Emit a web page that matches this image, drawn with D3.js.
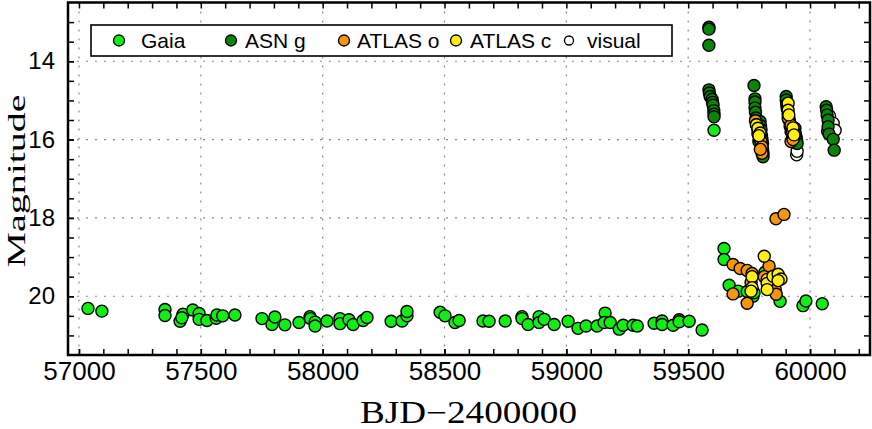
<!DOCTYPE html>
<html>
<head>
<meta charset="utf-8">
<script src="https://cdn.jsdelivr.net/npm/d3@7"></script>
<style>
  body { margin: 0; background: #fff; }
  .tick text { font-family: "Liberation Sans", Arial, sans-serif; fill: #000; }
  .axisText { font-family: "Liberation Serif", "Times New Roman", serif; fill: #000; }
  .legText { font-family: "Liberation Sans", Arial, sans-serif; font-size: 21px; fill: #000; }
</style>
</head>
<body>
<div id="chart"></div>
<script>
// ---- data ----
var gaiaJD = [57037,57094,57353,57353,57415,57427,57422,57467,57493,57493,57525,57563,57566,57590,57640,
  57751,57792,57804,57845,57903,57948,57950,57969,57969,58018,58071,58071,58108,58125,58166,58182,
  58281,58326,58346,58346,58482,58502,58543,58560,58658,58683,58749,58818,58818,58843,58888,58888,
  58909,58950,59007,59048,59081,59126,59159,59155,59180,59217,59233,59274,59291,59360,59393,59393,
  59438,59463,59463,59504,59557,
  59606,59647,59647,59668,59705,59742,59766,59770,59815,59877,59971,59983,60050];
var gaiaMag = [20.31,20.38,20.34,20.49,20.64,20.46,20.55,20.35,20.44,20.59,20.62,20.56,20.48,20.50,20.48,
  20.57,20.72,20.53,20.73,20.67,20.52,20.57,20.66,20.76,20.63,20.57,20.70,20.60,20.72,20.62,20.54,
  20.64,20.63,20.50,20.39,20.41,20.50,20.67,20.62,20.63,20.64,20.63,20.52,20.57,20.72,20.52,20.67,
  20.59,20.72,20.64,20.82,20.76,20.76,20.43,20.67,20.67,20.84,20.74,20.74,20.76,20.69,20.63,20.72,
  20.74,20.60,20.65,20.64,20.86,
  15.76,18.78,19.06,19.72,19.87,19.88,20.00,19.91,19.39,20.13,20.24,20.12,20.19];

var asnJD = [59585,59585,59585,
  59585,59587,59590,59598,59600,59602,59605,59606,59606,
  59770,59774,59774,59774,59776,59778,59782,59786,59790,59795,59797,59799,59801,59803,59805,59805,59807,59807,
  59902,59902,59904,59906,59910,59914,59918,59922,59928,59938,59940,59944,59945,59947,
  60066,60068,60070,60072,60074,60074,60078,60095,60099];
var asnMag = [13.13,13.18,13.59,
  14.73,14.81,14.90,14.97,15.05,15.12,15.26,15.35,15.42,
  14.62,14.96,15.04,15.19,15.30,15.45,15.60,15.85,16.05,15.54,15.65,15.75,15.90,16.00,16.10,16.25,16.35,16.44,
  14.90,14.99,15.10,15.20,15.35,15.50,15.65,15.80,15.95,15.71,15.85,15.95,16.02,16.10,
  15.16,15.25,15.37,15.78,15.50,15.67,15.86,15.99,16.27];

var atlasOJD = [59776,59780,59786,59792,59799,59803,59803,59796,
  59910,59922,59928,59934,59922,59930,
  59860,59893,59684,59713,59742,59762,59684,59742,59832,59857,59861,59812,59758];
var atlasOMag = [15.52,15.62,15.75,15.95,16.05,16.18,16.35,16.25,
  15.45,15.63,15.80,15.92,16.05,16.00,
  18.02,17.91,19.19,19.29,19.34,19.42,19.94,20.18,19.23,19.83,19.95,19.50,19.65];

var atlasCJD = [59780,59786,59795,59790,
  59910,59910,59913,59930,59934,
  59762,59762,59758,59812,59824,59824,59824,59848,59869,59881,59869];
var atlasCMag = [15.62,15.71,15.83,15.90,
  15.07,15.25,15.37,15.70,15.88,
  19.50,19.78,19.87,18.98,19.57,19.67,19.83,19.49,19.44,19.56,19.60];

var visualJD = [59790,59800,59915,59945,59947,60080,60095,60103];
var visualMag = [15.60,15.90,15.50,16.39,16.30,15.40,15.58,15.76];

var xTicks = [57000,57500,58000,58500,59000,59500,60000];
var yTicks = [14,16,18,20];
var legendLabels = ["Gaia","ASN g","ATLAS o","ATLAS c","visual"];
var legendColors = ["#11ee11","#0a850a","#f7950f","#ffef10","#ffffff"];

// ---- dimensions ----
var svgWidth = 872;
var svgHeight = 429;
var margin = {top: 2.5, right: 2, bottom: 74, left: 68};
var width = svgWidth - margin.left - margin.right;
var height = svgHeight - margin.top - margin.bottom;

var svg = d3.select("#chart")
  .append("svg")
  .attr("width", svgWidth)
  .attr("height", svgHeight);

var chartGroup = svg.append("g")
  .attr("transform", `translate(${margin.left}, ${margin.top})`);

var xScale = d3.scaleLinear().domain([56955, 60246]).range([0, width]);
var yScale = d3.scaleLinear().domain([12.5, 21.5]).range([0, height]);

// grid
chartGroup.selectAll(".vgrid")
  .data(xTicks)
  .enter()
  .append("line")
  .attr("x1", d => xScale(d)).attr("x2", d => xScale(d))
  .attr("y1", 0).attr("y2", height)
  .attr("stroke", "#8a8a8a").attr("stroke-width", 1.2)
  .attr("stroke-dasharray", "2,7");

chartGroup.selectAll(".hgrid")
  .data(yTicks)
  .enter()
  .append("line")
  .attr("x1", 0).attr("x2", width)
  .attr("y1", d => yScale(d)).attr("y2", d => yScale(d))
  .attr("stroke", "#8a8a8a").attr("stroke-width", 1.2)
  .attr("stroke-dasharray", "2,7");

// axes: ticks point inward on all four sides
var minorX = d3.range(57000, 60201, 100);
var minorY = d3.range(13, 21.01, 0.5);

function styleAxis(g) {
  g.select(".domain").remove();
  g.selectAll(".tick line").attr("stroke", "#000").attr("stroke-width", 1.5);
}

chartGroup.append("g")
  .attr("transform", `translate(0, ${height})`)
  .call(d3.axisBottom(xScale).tickValues(minorX).tickSizeInner(-6).tickSizeOuter(0).tickFormat(""))
  .call(styleAxis);

chartGroup.append("g")
  .attr("transform", `translate(0, ${height})`)
  .call(d3.axisBottom(xScale).tickValues(xTicks).tickSizeInner(-6).tickSizeOuter(0).tickPadding(7).tickFormat(d3.format("d")))
  .call(styleAxis)
  .selectAll("text").attr("font-size", 26);

chartGroup.append("g")
  .call(d3.axisTop(xScale).tickValues(minorX).tickSizeInner(-6).tickSizeOuter(0).tickFormat(""))
  .call(styleAxis);

chartGroup.append("g")
  .call(d3.axisLeft(yScale).tickValues(minorY).tickSizeInner(-6).tickSizeOuter(0).tickFormat(""))
  .call(styleAxis);

chartGroup.append("g")
  .call(d3.axisLeft(yScale).tickValues(yTicks).tickSizeInner(-6).tickSizeOuter(0).tickPadding(13).tickFormat(d3.format("d")))
  .call(styleAxis)
  .selectAll("text").attr("font-size", 24);

chartGroup.append("g")
  .attr("transform", `translate(${width}, 0)`)
  .call(d3.axisRight(yScale).tickValues(minorY).tickSizeInner(-6).tickSizeOuter(0).tickFormat(""))
  .call(styleAxis);

// frame
chartGroup.append("rect")
  .attr("width", width).attr("height", height)
  .attr("fill", "none").attr("stroke", "#000").attr("stroke-width", 2.5);

// points
function drawSeries(jd, mag, color) {
  chartGroup.append("g")
    .selectAll("circle")
    .data(jd.map((d, i) => [d, mag[i]]))
    .enter()
    .append("circle")
    .attr("cx", d => xScale(d[0]))
    .attr("cy", d => yScale(d[1]))
    .attr("r", 6)
    .attr("fill", color)
    .attr("stroke", "#000")
    .attr("stroke-width", 1.4);
}

drawSeries(visualJD, visualMag, legendColors[4]);
drawSeries(asnJD, asnMag, legendColors[1]);
drawSeries(gaiaJD, gaiaMag, legendColors[0]);
drawSeries(atlasOJD, atlasOMag, legendColors[2]);
drawSeries(atlasCJD, atlasCMag, legendColors[3]);

// legend
var legend = svg.append("g");
legend.append("rect")
  .attr("x", 91).attr("y", 25).attr("width", 581).attr("height", 31)
  .attr("fill", "#fff").attr("stroke", "#000").attr("stroke-width", 1.6);

var legMarkX = [119, 231, 344, 456, 569];
var legTextX = [141, 245, 357, 470, 587];

legend.selectAll(".legMark")
  .data(legendLabels)
  .enter()
  .append("circle")
  .attr("cx", (d, i) => legMarkX[i])
  .attr("cy", 40.5)
  .attr("r", (d, i) => i === 4 ? 4.5 : 5.5)
  .attr("fill", (d, i) => legendColors[i])
  .attr("stroke", "#000")
  .attr("stroke-width", 1.3);

legend.selectAll(".legText")
  .data(legendLabels)
  .enter()
  .append("text")
  .attr("class", "legText")
  .attr("x", (d, i) => legTextX[i])
  .attr("y", 48)
  .text(d => d);

// axis labels
svg.append("text")
  .attr("class", "axisText")
  .attr("transform", "translate(25, 181) rotate(-90)")
  .attr("text-anchor", "middle")
  .attr("font-size", 26)
  .attr("textLength", 173)
  .attr("lengthAdjust", "spacingAndGlyphs")
  .text("Magnitude");

svg.append("text")
  .attr("class", "axisText")
  .attr("x", 360)
  .attr("y", 423)
  .attr("font-size", 31)
  .attr("textLength", 217)
  .attr("lengthAdjust", "spacingAndGlyphs")
  .text("BJD\u22122400000");
</script>
</body>
</html>
